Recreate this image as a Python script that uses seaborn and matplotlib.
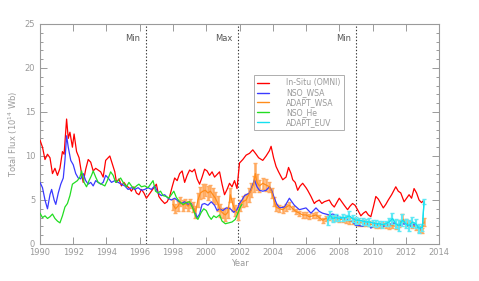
import matplotlib

matplotlib.use("Agg")

import matplotlib.pyplot as plt
import numpy as np
import pandas as pd
import seaborn as sns
from matplotlib.ticker import MultipleLocator

# In-Situ (OMNI)
omni_years = [1990.0, 1990.15, 1990.3, 1990.45, 1990.6, 1990.75, 1990.9, 1991.05, 1991.2, 1991.35,
              1991.45, 1991.6, 1991.7, 1991.8, 1991.95, 1992.05, 1992.2, 1992.35, 1992.5, 1992.6,
              1992.75, 1992.9, 1993.05, 1993.2, 1993.35, 1993.5, 1993.65, 1993.8, 1993.95, 1994.1,
              1994.2, 1994.35, 1994.5, 1994.6, 1994.75, 1994.9, 1995.05, 1995.2, 1995.35, 1995.5,
              1995.65, 1995.8, 1995.95, 1996.1, 1996.25, 1996.4, 1996.55, 1996.7, 1996.85, 1997.0,
              1997.15, 1997.3, 1997.5, 1997.65, 1997.8, 1997.95, 1998.1, 1998.25, 1998.4, 1998.55,
              1998.7, 1998.85, 1999.0, 1999.15, 1999.3, 1999.45, 1999.6, 1999.75, 1999.9, 2000.05,
              2000.2, 2000.35, 2000.5, 2000.65, 2000.8, 2000.95, 2001.1, 2001.25, 2001.4, 2001.55,
              2001.7, 2001.85, 2002.0, 2002.2, 2002.4, 2002.6, 2002.8, 2003.0, 2003.15, 2003.4,
              2003.6, 2003.8, 2003.9, 2004.05, 2004.2, 2004.35, 2004.6, 2004.8, 2004.95, 2005.1,
              2005.2, 2005.35, 2005.5, 2005.65, 2005.8, 2006.0, 2006.1, 2006.3, 2006.5, 2006.6,
              2006.8, 2006.95, 2007.1, 2007.4, 2007.55, 2007.7, 2007.85, 2008.0, 2008.15, 2008.3,
              2008.5, 2008.65, 2008.8, 2008.95, 2009.1, 2009.3, 2009.45, 2009.6, 2009.75, 2009.9,
              2010.05, 2010.2, 2010.35, 2010.5, 2010.65, 2010.8, 2010.95, 2011.15, 2011.4, 2011.55,
              2011.7, 2011.9, 2012.05, 2012.2, 2012.35, 2012.5, 2012.65, 2012.8, 2012.95, 2013.1]
omni_flux = [11.8, 11.0, 9.6, 10.2, 9.8, 8.0, 8.6, 7.8, 8.6, 10.5,
             10.2, 14.2, 12.0, 12.7, 11.0, 12.5, 10.5, 9.8, 8.0, 7.0,
             8.5, 9.6, 9.3, 8.3, 8.6, 8.4, 8.2, 7.6, 9.5, 9.8,
             10.0, 9.1, 8.2, 7.0, 7.4, 6.6, 7.0, 6.6, 6.4, 6.0,
             6.5, 5.8, 5.6, 6.2, 5.8, 5.2, 5.6, 6.0, 6.4, 6.8,
             5.4, 5.0, 4.6, 4.8, 5.4, 6.5, 7.5, 7.2, 8.0, 8.3,
             7.0, 7.8, 8.4, 8.2, 8.5, 7.4, 6.8, 7.6, 8.5, 8.3,
             7.8, 8.2, 7.6, 7.9, 8.2, 6.8, 5.6, 6.2, 6.9, 6.5,
             7.2, 6.3, 9.2, 9.6, 10.1, 10.3, 10.7, 10.2, 9.8, 9.5,
             10.0, 10.6, 11.1, 9.8, 8.8, 8.2, 7.3, 7.6, 8.7, 8.0,
             7.3, 7.0, 6.1, 6.6, 6.9, 6.4, 6.1, 5.4, 4.6, 4.8,
             5.0, 4.6, 4.8, 5.0, 4.5, 4.2, 4.7, 5.2, 4.8, 4.4,
             3.9, 4.3, 4.6, 4.4, 3.9, 3.2, 3.5, 3.7, 3.3, 3.1,
             4.2, 5.4, 5.1, 4.6, 4.1, 4.5, 5.0, 5.6, 6.5, 6.0,
             5.8, 4.8, 5.2, 5.6, 5.2, 6.3, 5.8, 5.0, 4.7, 5.0]

# NSO_WSA
nso_wsa_years = [1990.0, 1990.15, 1990.3, 1990.45, 1990.6, 1990.7, 1990.85, 1990.95, 1991.1, 1991.25,
                 1991.4, 1991.5, 1991.6, 1991.7, 1991.85, 1992.0, 1992.15, 1992.3, 1992.45, 1992.6,
                 1992.75, 1992.9, 1993.05, 1993.2, 1993.35, 1993.5, 1993.65, 1993.8, 1993.95, 1994.1,
                 1994.3, 1994.5, 1994.7, 1994.9, 1995.1, 1995.3, 1995.5, 1995.7, 1995.9, 1996.1,
                 1996.3, 1996.5, 1996.7, 1996.9, 1997.1, 1997.3, 1997.5, 1997.7, 1997.9, 1998.1,
                 1998.3, 1998.5, 1998.7, 1998.9, 1999.1, 1999.3, 1999.45, 1999.6, 1999.75, 1999.9,
                 2000.1, 2000.3, 2000.5, 2000.65, 2000.8, 2001.0, 2001.2, 2001.45, 2001.65, 2001.85,
                 2002.0, 2002.15, 2002.3, 2002.6, 2002.75, 2002.9, 2003.05, 2003.2, 2003.4, 2003.6,
                 2003.8, 2003.95, 2004.1, 2004.25, 2004.4, 2004.7, 2004.85, 2005.0, 2005.15, 2005.3,
                 2005.6, 2005.8, 2006.0, 2006.3, 2006.45, 2006.6, 2006.8, 2007.0, 2007.2, 2007.4,
                 2007.6, 2007.8, 2008.0, 2008.2, 2008.4, 2008.6, 2008.8, 2009.0, 2009.2, 2009.4,
                 2009.6, 2009.75, 2009.9, 2010.1, 2010.4, 2010.7, 2011.0, 2011.3, 2011.6, 2011.9,
                 2012.2, 2012.5, 2012.8, 2013.0]
nso_wsa_flux = [7.0, 6.4, 5.0, 4.0, 5.6, 6.2, 5.0, 4.5, 5.8, 6.8,
                7.5, 9.5, 12.3, 11.0, 9.5, 9.0, 8.0, 7.5, 7.4, 8.0,
                7.2, 6.8, 7.0, 6.6, 7.2, 7.0, 6.8, 7.0, 7.8, 7.5,
                7.0, 7.2, 7.0, 6.8, 6.6, 6.2, 6.4, 6.2, 6.4, 6.1,
                6.2, 6.4, 6.2, 6.6, 5.8, 5.5, 5.6, 5.2, 5.0, 5.2,
                4.9, 4.6, 4.8, 4.5, 4.6, 3.8, 3.0, 3.4, 4.5, 4.6,
                4.4, 4.8, 4.4, 3.8, 4.0, 3.8, 4.1, 4.0, 3.6, 3.9,
                4.6, 5.0, 5.5, 5.8, 6.5, 7.3, 6.5, 6.1, 6.0, 6.1,
                6.5, 6.0, 5.2, 4.5, 4.1, 4.2, 4.7, 5.2, 4.8, 4.4,
                3.9, 4.0, 4.1, 3.5, 3.8, 4.1, 3.7, 3.5, 3.4, 3.3,
                3.4, 3.3, 3.1, 2.9, 2.8, 2.7, 2.5, 2.1, 2.1, 2.0,
                2.2, 2.3, 1.8, 2.1, 2.3, 2.0, 2.2, 2.4, 2.1, 2.3,
                2.0, 2.2, 1.8, 1.6]

# ADAPT_WSA
adapt_wsa_years = [1998.0, 1998.15, 1998.3, 1998.45, 1998.6, 1998.75, 1998.9, 1999.05, 1999.2, 1999.35,
                   1999.5, 1999.65, 1999.8, 1999.95, 2000.1, 2000.25, 2000.4, 2000.55, 2000.7, 2000.85,
                   2001.0, 2001.15, 2001.3, 2001.45, 2001.6, 2001.75, 2001.9, 2002.05, 2002.2, 2002.4,
                   2002.55, 2002.7, 2002.85, 2002.95, 2003.05, 2003.2, 2003.4, 2003.6, 2003.8, 2003.95,
                   2004.1, 2004.2, 2004.4, 2004.6, 2004.8, 2005.0, 2005.2, 2005.4, 2005.6, 2005.8,
                   2006.0, 2006.2, 2006.4, 2006.6, 2006.8, 2007.0, 2007.2, 2007.4, 2007.6, 2007.8,
                   2008.0, 2008.2, 2008.4, 2008.6, 2008.8, 2009.0, 2009.2, 2009.4, 2009.6, 2009.8,
                   2010.0, 2010.2, 2010.4, 2010.6, 2010.8, 2011.0, 2011.2, 2011.4, 2011.6, 2011.8,
                   2012.0, 2012.2, 2012.4, 2012.6, 2012.8, 2012.95, 2013.1]
adapt_wsa_flux = [4.5, 4.0, 4.3, 4.8, 4.4, 4.6, 4.3, 4.6, 4.2, 3.6,
                  5.0, 5.8, 6.0, 6.1, 5.8, 6.0, 5.6, 5.2, 4.6, 3.8,
                  3.5, 3.3, 3.6, 5.6, 4.5, 3.8, 3.4, 4.4, 4.8, 5.0,
                  5.6, 6.1, 6.8, 8.0, 7.0, 6.6, 6.9, 6.7, 6.5, 5.8,
                  4.8, 4.2, 4.0, 3.9, 4.2, 4.4, 4.0, 3.7, 3.5, 3.3,
                  3.3, 3.1, 3.2, 3.3, 3.0, 2.7, 2.9, 3.0, 2.9, 2.9,
                  2.8, 2.8, 2.7, 2.6, 2.6, 2.5, 2.4, 2.4, 2.3, 2.3,
                  2.2, 2.1, 2.1, 2.2, 2.1, 2.0, 2.1, 2.0, 2.3, 2.9,
                  2.4, 2.3, 2.1, 1.9, 1.7, 1.5, 2.5]
adapt_wsa_err = [0.6, 0.5, 0.6, 0.5, 0.6, 0.5, 0.6, 0.5, 0.6, 0.7,
                 0.8, 0.7, 0.8, 0.7, 0.8, 0.7, 0.8, 0.7, 0.8, 0.7,
                 0.6, 0.7, 0.6, 0.8, 0.7, 0.6, 0.7, 0.6, 0.6, 0.7,
                 0.8, 0.8, 0.9, 1.2, 0.9, 0.7, 0.6, 0.7, 0.6, 0.6,
                 0.5, 0.4, 0.4, 0.4, 0.4, 0.4, 0.3, 0.3, 0.3, 0.3,
                 0.3, 0.3, 0.3, 0.3, 0.3, 0.3, 0.3, 0.3, 0.3, 0.3,
                 0.3, 0.3, 0.3, 0.3, 0.3, 0.3, 0.3, 0.3, 0.3, 0.3,
                 0.3, 0.3, 0.3, 0.3, 0.3, 0.3, 0.3, 0.3, 0.4, 0.5,
                 0.4, 0.3, 0.3, 0.3, 0.3, 0.3, 0.4]

# NSO_He
nso_he_years = [1990.0, 1990.15, 1990.3, 1990.45, 1990.6, 1990.75, 1990.9, 1991.05, 1991.2, 1991.35,
                1991.5, 1991.65, 1991.8, 1991.95, 1992.1, 1992.25, 1992.4, 1992.5, 1992.65, 1992.8,
                1992.95, 1993.1, 1993.2, 1993.35, 1993.5, 1993.7, 1993.9, 1994.05, 1994.25, 1994.4,
                1994.55, 1994.7, 1994.85, 1995.0, 1995.2, 1995.35, 1995.5, 1995.65, 1995.8, 1995.95,
                1996.1, 1996.3, 1996.5, 1996.65, 1996.8, 1996.95, 1997.1, 1997.25, 1997.4, 1997.6,
                1997.75, 1997.9, 1998.05, 1998.2, 1998.4, 1998.6, 1998.8, 1999.0, 1999.2, 1999.4,
                1999.5, 1999.7, 1999.85, 2000.0, 2000.15, 2000.3, 2000.45, 2000.6, 2000.8, 2000.95,
                2001.15, 2001.35, 2001.55, 2001.75, 2001.9, 2002.05, 2002.15]
nso_he_flux = [3.5, 3.0, 3.2, 2.9, 3.1, 3.4, 2.9, 2.6, 2.4, 3.2,
               4.2, 4.6, 5.5, 6.8, 7.0, 7.2, 7.6, 8.3, 7.0, 6.5,
               7.2, 7.8, 8.3, 7.6, 7.0, 6.8, 6.6, 7.2, 8.2, 7.8,
               7.0, 7.2, 7.5, 7.0, 6.5, 7.0, 6.6, 6.3, 6.6, 6.8,
               6.5, 6.6, 6.4, 6.8, 7.2, 6.0, 5.8, 6.0, 5.5, 5.4,
               5.2, 5.6, 6.0, 5.3, 4.8, 4.5, 4.7, 4.8, 4.0, 3.0,
               2.8, 3.6, 4.0, 3.8, 3.2, 2.8, 3.2, 3.0, 3.3, 2.6,
               2.3, 2.4, 2.5, 2.8, 3.5, 4.2, 4.5]

# ADAPT_EUV
adapt_euv_years = [2007.3, 2007.45, 2007.6, 2007.8, 2008.0, 2008.2, 2008.4, 2008.6, 2008.8, 2009.0,
                   2009.2, 2009.4, 2009.6, 2009.8, 2010.0, 2010.2, 2010.4, 2010.6, 2010.8, 2011.0,
                   2011.2, 2011.4, 2011.6, 2011.8, 2012.0, 2012.2, 2012.4, 2012.6, 2012.8, 2013.0,
                   2013.1]
adapt_euv_flux = [2.7, 3.3, 2.9, 3.0, 2.9, 3.0, 3.0, 3.2, 2.9, 2.7,
                  2.7, 2.6, 2.5, 2.5, 2.4, 2.3, 2.3, 2.2, 2.3, 2.5,
                  2.9, 2.3, 2.1, 2.7, 2.3, 2.1, 2.5, 2.3, 1.8, 1.9,
                  4.8]
adapt_euv_err = [0.5, 0.5, 0.4, 0.4, 0.3, 0.4, 0.3, 0.5, 0.4, 0.4,
                 0.3, 0.4, 0.3, 0.4, 0.3, 0.4, 0.3, 0.4, 0.3, 0.5,
                 0.6, 0.5, 0.6, 0.7, 0.5, 0.6, 0.6, 0.5, 0.5, 0.4,
                 0.3]

cycle_years = [1996.36, 2001.9, 2009.03]
cycle_labels = ["Min", "Max", "Min"]

series_names = ["In-Situ (OMNI)", "NSO_WSA", "ADAPT_WSA", "NSO_He", "ADAPT_EUV"]
series_colors = ["#ff0000", "#3a3aff", "#ff8c1a", "#22dd22", "#14e0f0"]
grey = "#9a9a9a"


def build_frame() -> pd.DataFrame:
    parts = [
        (omni_years, omni_flux),
        (nso_wsa_years, nso_wsa_flux),
        (adapt_wsa_years, adapt_wsa_flux),
        (nso_he_years, nso_he_flux),
        (adapt_euv_years, adapt_euv_flux),
    ]
    frames = []
    for name, (years, flux) in zip(series_names, parts):
        frames.append(pd.DataFrame({"year": years, "flux": flux, "series": name}))
    return pd.concat(frames, ignore_index=True)


def main() -> None:
    sns.set_style("ticks")
    plt.rcParams["font.family"] = ["DejaVu Sans"]

    df = build_frame()
    fig = plt.figure(figsize=(4.79, 2.81), dpi=100)
    ax = fig.add_axes([0.0835, 0.1317, 0.833, 0.7829])

    palette = dict(zip(series_names, series_colors))
    sns.lineplot(data=df, x="year", y="flux", hue="series", hue_order=series_names,
                 palette=palette, estimator=None, sort=False, lw=0.9, ax=ax, zorder=3)

    # error bars for the ADAPT runs
    ax.errorbar(adapt_wsa_years, adapt_wsa_flux, yerr=adapt_wsa_err, fmt="none",
                ecolor="#ffaa60", elinewidth=1.8, capsize=1.5, zorder=2)
    ax.errorbar(adapt_euv_years, adapt_euv_flux, yerr=adapt_euv_err, fmt="none",
                ecolor="#5ee8f5", elinewidth=1.6, capsize=1.5, zorder=4)
    sns.lineplot(x=adapt_euv_years, y=adapt_euv_flux, color=series_colors[4], lw=0.9,
                 ax=ax, zorder=5, legend=False)

    for yr, lab in zip(cycle_years, cycle_labels):
        ax.axvline(yr, color="#333333", ls=(0, (1.2, 1.8)), lw=0.8, zorder=1)
        ax.annotate(lab, xy=(yr, 23.4), xytext=(-4, 0), textcoords="offset points",
                    ha="right", va="center", fontsize=6, color="#555555")

    ax.set_xlim(1990, 2014)
    ax.set_ylim(0, 25)
    ax.xaxis.set_major_locator(MultipleLocator(2))
    ax.yaxis.set_major_locator(MultipleLocator(5))
    ax.yaxis.set_minor_locator(MultipleLocator(1))
    ax.tick_params(which="both", direction="in", top=True, right=True, colors=grey,
                   labelcolor=grey, labelsize=6, width=0.7)
    ax.tick_params(which="major", length=5)
    ax.tick_params(which="minor", length=2.5)
    ax.tick_params(axis="x", pad=3)
    for spine in ax.spines.values():
        spine.set_color(grey)
        spine.set_linewidth(0.8)

    ax.set_xlabel("Year", fontsize=6, color=grey, labelpad=1)
    ax.set_ylabel("Total Flux (10$^{14}$ Wb)", fontsize=6, color=grey)
    ax.yaxis.set_label_coords(-0.05, 0.5)

    handles, labels = ax.get_legend_handles_labels()
    leg = ax.legend(handles[:5], labels[:5], loc="upper left", bbox_to_anchor=(0.526, 0.785),
                    fontsize=5.6, frameon=True, fancybox=False, handlelength=1.6,
                    handletextpad=2.2, labelspacing=0.12, borderpad=0.4, labelcolor=grey)
    leg.get_frame().set_edgecolor(grey)
    leg.get_frame().set_linewidth(0.7)
    for line in leg.get_lines():
        line.set_linewidth(1.0)

    fig.savefig("out.png", dpi=100, facecolor="white")
    plt.close(fig)


if __name__ == "__main__":
    main()
